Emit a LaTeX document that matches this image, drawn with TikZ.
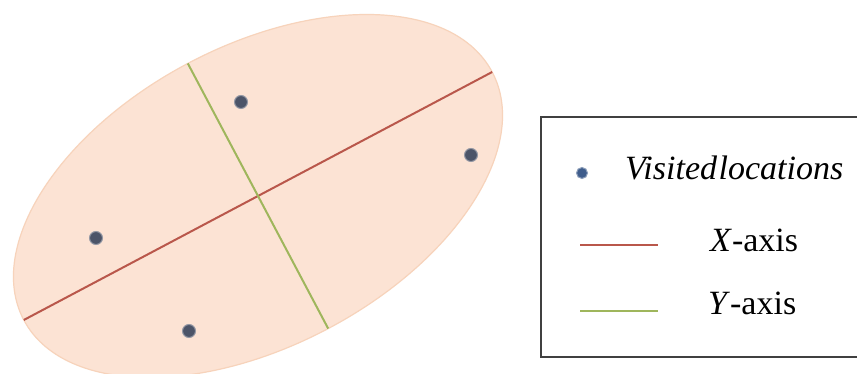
\documentclass[tikz,border=0pt]{standalone}
\usepackage{fontspec}
\setmainfont{Liberation Serif}
\usepackage{tikz}
\usetikzlibrary{positioning}
\definecolor{ellPeach}{HTML}{FCE3D4}
\definecolor{ellEdge}{HTML}{F7D3BB}
\definecolor{axisRed}{HTML}{B9574B}
\definecolor{axisGreen}{HTML}{9FB65C}
\definecolor{locGray}{HTML}{4C5468}
\definecolor{locBlue}{HTML}{3F5D8C}

\begin{document}
\begin{tikzpicture}[
  x=1pt, y=1pt,
  loc/.style={circle, fill=locGray, draw=locGray!60, line width=1pt, inner sep=0pt, minimum size=13pt},
  xaxis/.style={axisRed, line width=2pt},
  yaxis/.style={axisGreen, line width=2pt},
  legtext/.style={anchor=base west, inner sep=0pt, font=\rmfamily\fontsize{34}{40}\selectfont},
]
  \clip (0,0) rectangle (857,374);
  \fill[white] (0,0) rectangle (857,374);
  \coordinate (c) at (258,178);
  % ellipse with its two axes
  \draw[fill=ellPeach, draw=ellEdge, line width=1.2pt, rotate around={27.9:(c)}] (c) ellipse (265 and 150);
  \path (c) ++(207.9:265) coordinate (xa) (c) ++(27.9:265) coordinate (xb);
  \path (c) ++(117.9:150) coordinate (ya) (c) ++(-62.1:150) coordinate (yb);
  \draw[xaxis] (xa) -- (xb);
  \draw[yaxis] (ya) -- (yb);
  \foreach \n/\p in {l1/{241,272},l2/{471,219},l3/{96,136},l4/{189,43}}
    \node[loc] (\n) at (\p) {};
  % legend
  \draw[line width=1.5pt, draw=black!75] (541,257) rectangle (880,17);
  \node[loc, fill=locBlue, draw=locBlue!60, minimum size=11pt] (kdot) at (582,201) {};
  \coordinate (kx1) at (580,129);
  \coordinate (kx2) at (658,129);
  \coordinate (ky1) at (580,63);
  \coordinate (ky2) at (658,63);
  \draw[xaxis] (kx1) -- (kx2);
  \draw[yaxis] (ky1) -- (ky2);
  \node[legtext] (tloc) at (625,194) {\itshape Visited\kern1.5pt locations};
  \node[legtext] (tx) at (710,122) {\textit{X}-axis};
  \node[legtext] (ty) at (708,59) {\textit{Y}-axis};
\end{tikzpicture}
\end{document}
